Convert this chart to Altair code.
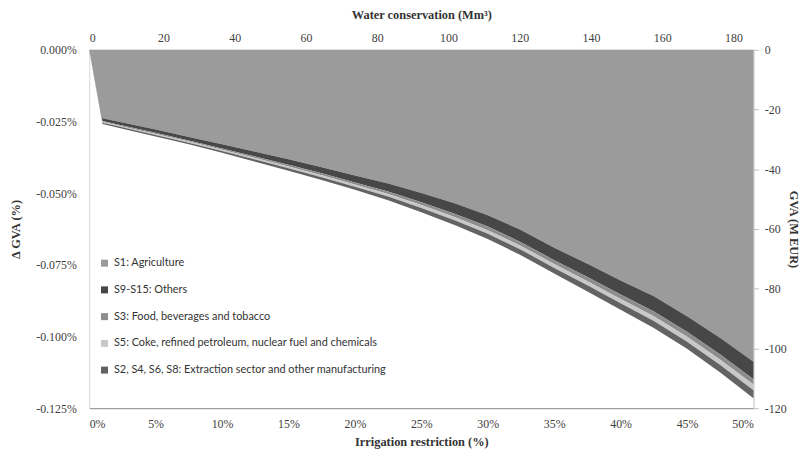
import altair as alt
import pandas as pd

# ---- data ----
restriction = [0, 1, 2.5, 5, 7.5, 10, 12.5, 15, 17.5, 20, 22.5, 25, 27.5, 30,
               32.5, 35, 37.5, 40, 42.5, 45, 47.5, 50]

sectors = [
    "S1: Agriculture",
    "S9-S15: Others",
    "S3: Food, beverages and tobacco",
    "S5: Coke, refined petroleum, nuclear fuel and chemicals",
    "S2, S4, S6, S8: Extraction sector and other manufacturing",
]

s1 = [0, -0.02383, -0.02538, -0.02780, -0.03039, -0.03298, -0.03557, -0.03816, -0.04092,
      -0.04385, -0.04662, -0.04990, -0.05352, -0.05767, -0.06285, -0.06906, -0.07459,
      -0.08046, -0.08598, -0.09289, -0.10048, -0.10877]
s9 = [0, -0.00099, -0.00101, -0.00116, -0.00124, -0.00141, -0.00166, -0.00191, -0.00216,
      -0.00240, -0.00282, -0.00323, -0.00365, -0.00398, -0.00423, -0.00431, -0.00464,
      -0.00489, -0.00530, -0.00547, -0.00580, -0.00613]
s3 = [0, -0.00031, -0.00032, -0.00036, -0.00039, -0.00044, -0.00052, -0.00060, -0.00067,
      -0.00075, -0.00088, -0.00101, -0.00114, -0.00124, -0.00132, -0.00135, -0.00145,
      -0.00153, -0.00166, -0.00171, -0.00181, -0.00180]
s5 = [0, -0.00031, -0.00032, -0.00036, -0.00039, -0.00044, -0.00052, -0.00060, -0.00067,
      -0.00075, -0.00088, -0.00101, -0.00114, -0.00124, -0.00132, -0.00135, -0.00145,
      -0.00153, -0.00166, -0.00171, -0.00181, -0.00205]
s2 = [0, -0.00046, -0.00047, -0.00054, -0.00057, -0.00065, -0.00076, -0.00087, -0.00099,
      -0.00110, -0.00129, -0.00148, -0.00167, -0.00182, -0.00194, -0.00198, -0.00213,
      -0.00224, -0.00243, -0.00251, -0.00266, -0.00281]

colors = ["#9b9b9b", "#474747", "#8d8d8d", "#c8c8c8", "#636363"]

x_ticks = [0, 5, 10, 15, 20, 25, 30, 35, 40, 45, 50]
y_ticks = [0, -0.025, -0.05, -0.075, -0.1, -0.125]
water_ticks = [0, 20, 40, 60, 80, 100, 120, 140, 160, 180]
gva_ticks = [0, -20, -40, -60, -80, -100, -120]

series = [s1, s9, s3, s5, s2]
rows = []
for i, (name, vals) in enumerate(zip(sectors, series)):
    for x, v in zip(restriction, vals):
        rows.append({"restriction": x, "value": v, "sector": name, "ord": i})
df = pd.DataFrame(rows)

axis_df = pd.DataFrame({"water": water_ticks[: len(gva_ticks)], "gva": gva_ticks})

serif = "Liberation Serif"
sans = "Lato"

area = alt.Chart(df).mark_area(interpolate="linear").encode(
    x=alt.X(
        "restriction:Q",
        scale=alt.Scale(domain=[0, 50], nice=False, zero=False),
        axis=alt.Axis(
            orient="bottom", values=x_ticks, labelExpr="datum.value + '%'",
            title="Irrigation restriction (%)", grid=False, ticks=False,
            domainColor="#868686", labelPadding=11, titlePadding=6,
        ),
    ),
    y=alt.Y(
        "value:Q", stack="zero",
        scale=alt.Scale(domain=[-0.125, 0], nice=False),
        axis=alt.Axis(
            orient="left", values=y_ticks,
            labelExpr="(datum.value < 0 ? '-' : '') + format(abs(datum.value), '.3f') + '%'",
            title="Δ GVA (%)", grid=False, ticks=False,
            domainColor="#d9d9d9", labelPadding=13, titlePadding=13,
        ),
    ),
    color=alt.Color(
        "sector:N",
        scale=alt.Scale(domain=sectors, range=colors),
        legend=alt.Legend(
            orient="none", legendX=10, legendY=210, direction="vertical",
            title=None, symbolType="square", symbolSize=50, symbolStrokeWidth=0,
            labelFont=sans, labelFontSize=11, labelColor="#333333", labelLimit=0,
            rowPadding=15, labelOffset=4,
        ),
    ),
    order=alt.Order("ord:Q"),
)

axes2 = alt.Chart(axis_df).mark_point(opacity=0).encode(
    x=alt.X(
        "water:Q",
        scale=alt.Scale(domain=[-0.83, 185.6], nice=False, zero=False),
        axis=alt.Axis(
            orient="top", values=water_ticks, title="Water conservation (Mm³)",
            grid=False, ticks=False, domainColor="#c8c8c8",
            labelPadding=5, titlePadding=11,
        ),
    ),
    y=alt.Y(
        "gva:Q",
        scale=alt.Scale(domain=[-120, 0], nice=False),
        axis=alt.Axis(
            orient="right", values=gva_ticks,
            labelExpr="(datum.value < 0 ? '-' : '') + abs(datum.value)",
            title="GVA (M EUR)", grid=False, ticks=True, tickSize=5,
            tickColor="#bfbfbf", domainColor="#bfbfbf",
            labelPadding=6, titlePadding=0,
        ),
    ),
)

chart = (
    alt.layer(area, axes2)
    .resolve_scale(x="independent", y="independent")
    .properties(
        width=671, height=362,
        autosize=alt.AutoSizeParams(type="none"),
        padding={"left": 82, "top": 40, "right": 48, "bottom": 42},
    )
    .configure_view(stroke=None)
    .configure_axis(
        labelFont=serif, labelFontSize=12, labelColor="#404040",
        titleFont=serif, titleFontSize=12.5, titleFontWeight="bold", titleColor="#333333",
    )
)

chart.save("out.html", embed_options={"renderer": "svg", "actions": False})
